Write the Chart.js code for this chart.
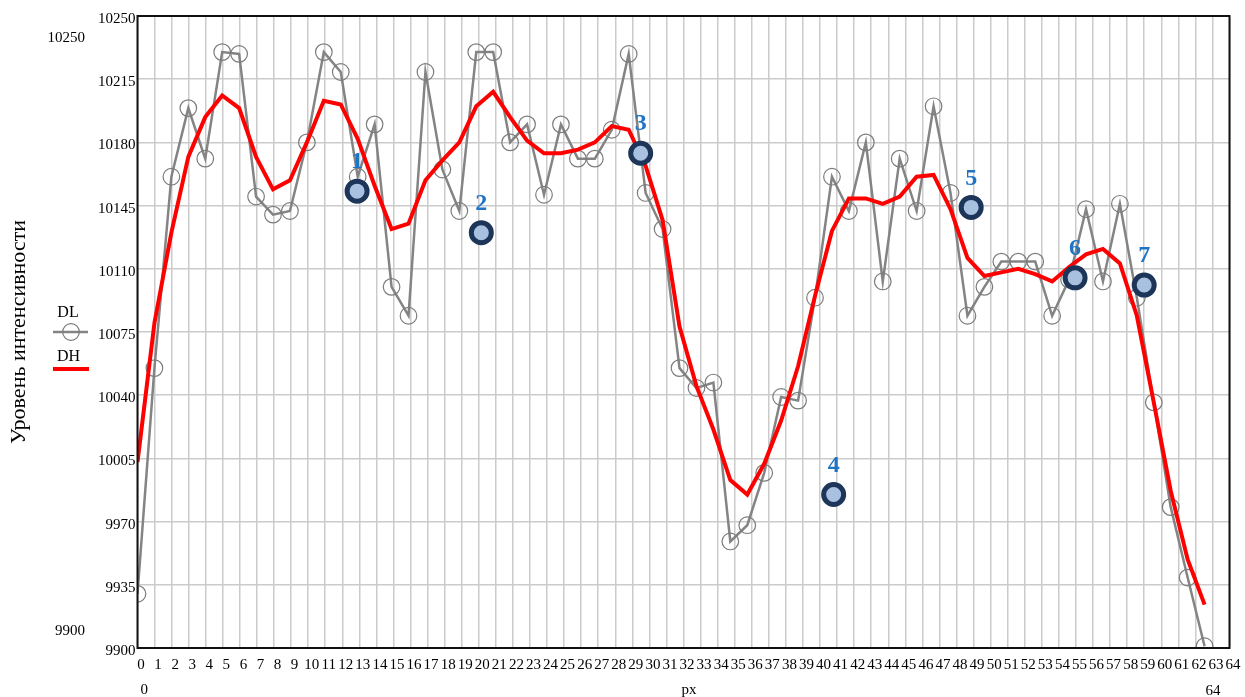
<!DOCTYPE html>
<html>
<head>
<meta charset="utf-8">
<script src="https://cdn.jsdelivr.net/npm/chart.js@4.4.0/dist/chart.umd.min.js"></script>
<style>
  html, body { margin: 0; padding: 0; background: #fff; }
  #wrap { width: 1245px; height: 697px; position: relative; }
</style>
</head>
<body>
<div id="wrap"><canvas id="c"></canvas></div>
<script>
// Intensity profile along a scan line: raw samples (DL) and smoothed curve (DH)
const xTicks = [0,1,2,3,4,5,6,7,8,9,10,11,12,13,14,15,16,17,18,19,20,21,22,23,24,25,26,27,28,29,30,31,32,
                33,34,35,36,37,38,39,40,41,42,43,44,45,46,47,48,49,50,51,52,53,54,55,56,57,58,59,60,61,62,63,64];
const yTicks = [9900, 9935, 9970, 10005, 10040, 10075, 10110, 10145, 10180, 10215, 10250];
const xRange = [0, 64];
const yRange = [9900, 10250];
const sampleStep = 0.9927;   // axis units between neighbouring samples

const dlValues = [9930, 10055, 10161, 10199, 10171, 10230, 10229, 10150, 10140, 10142,
                  10180, 10230, 10219, 10161, 10190, 10100, 10084, 10219, 10165, 10142,
                  10230, 10230, 10180, 10190, 10151, 10190, 10171, 10171, 10187, 10229,
                  10152, 10132, 10055, 10044, 10047, 9959, 9968, 9997, 10039, 10037,
                  10094, 10161, 10142, 10180, 10103, 10171, 10142, 10200, 10152, 10084,
                  10100, 10114, 10114, 10114, 10084, 10104, 10143, 10103, 10146, 10094,
                  10036, 9978, 9939, 9901];
const dhValues = [10003, 10080, 10130, 10172, 10194, 10206, 10199, 10172, 10154, 10159,
                  10180, 10203, 10201, 10182, 10156, 10132, 10135, 10159, 10170, 10180,
                  10200, 10208, 10194, 10181, 10174, 10174, 10176, 10180, 10189, 10187,
                  10167, 10137, 10078, 10045, 10021, 9993, 9985, 10002, 10026, 10056,
                  10095, 10131, 10149, 10149, 10146, 10150, 10161, 10162, 10143, 10116,
                  10106, 10108, 10110, 10107, 10103, 10111, 10118, 10121, 10113, 10084,
                  10036, 9987, 9949, 9924];

const markerLabels = ['1', '2', '3', '4', '5', '6', '7'];
const markerX = [12.87, 20.15, 29.49, 40.80, 48.86, 54.95, 59.00];
const markerY = [10153, 10130, 10174, 9985, 10144, 10105, 10101];

const serif = 'Liberation Serif, Times New Roman, serif';

const toPoints = vals => vals.map((v, i) => ({ x: i * sampleStep, y: v }));

// clip the series to the plot box, then draw frame, legend, range captions and marker numbers
const decorations = {
  id: 'decorations',
  beforeDatasetsDraw(chart) {
    const { ctx, chartArea: a } = chart;
    ctx.save();
    ctx.beginPath();
    ctx.rect(a.left, a.top, a.right - a.left, a.bottom - a.top);
    ctx.clip();
  },
  afterDatasetsDraw(chart) {
    const { ctx, chartArea: a } = chart;
    ctx.restore();
    ctx.save();
    // plot frame
    ctx.strokeStyle = '#111';
    ctx.lineWidth = 2;
    ctx.strokeRect(a.left, a.top, a.right - a.left, a.bottom - a.top);

    // numbers above the marked points
    const meta = chart.getDatasetMeta(2);
    ctx.fillStyle = '#1f74c4';
    ctx.font = 'bold 24px ' + serif;
    ctx.textAlign = 'center';
    ctx.textBaseline = 'middle';
    meta.data.forEach((p, i) => ctx.fillText(markerLabels[i], p.x, p.y - 29));

    // legend
    const ds = chart.data.datasets;
    ctx.fillStyle = '#000';
    ctx.font = '16px ' + serif;
    ctx.fillText(ds[0].label, 68, 313);
    ctx.fillText(ds[1].label, 68.5, 357);
    ctx.strokeStyle = ds[0].borderColor;
    ctx.lineWidth = ds[0].borderWidth;
    ctx.beginPath(); ctx.moveTo(53, 332); ctx.lineTo(88, 332); ctx.stroke();
    ctx.lineWidth = ds[0].pointBorderWidth;
    ctx.strokeStyle = ds[0].pointBorderColor;
    ctx.beginPath(); ctx.arc(71, 332, ds[0].pointRadius, 0, Math.PI * 2); ctx.stroke();
    ctx.strokeStyle = ds[1].borderColor;
    ctx.lineWidth = ds[1].borderWidth;
    ctx.beginPath(); ctx.moveTo(53, 369); ctx.lineTo(89, 369); ctx.stroke();

    // range captions
    ctx.font = '15px ' + serif;
    ctx.textAlign = 'right';
    ctx.fillText(String(yRange[1]), 85, 38);
    ctx.fillText(String(yRange[0]), 85, 631);
    ctx.textAlign = 'left';
    ctx.fillText(String(xRange[0]), a.left + 3, 690);
    ctx.textAlign = 'center';
    ctx.fillText(String(xRange[1]), a.right - 16.5, 691);
    ctx.fillText('px', 689, 690);
    ctx.restore();
  }
};

new Chart(document.getElementById('c'), {
  type: 'line',
  data: {
    datasets: [
      {
        label: 'DL',
        data: toPoints(dlValues),
        borderColor: '#848484',
        borderWidth: 2.5,
        pointRadius: 8.3,
        pointBorderWidth: 1.2,
        pointBorderColor: '#7c7c7c',
        pointBackgroundColor: 'rgba(0,0,0,0)',
        tension: 0,
        clip: 0,
        order: 2
      },
      {
        label: 'DH',
        data: toPoints(dhValues),
        borderColor: '#ff0000',
        borderWidth: 4,
        pointRadius: 0,
        tension: 0,
        clip: 0,
        order: 1
      },
      {
        label: 'marks',
        data: markerX.map((x, i) => ({ x, y: markerY[i] })),
        showLine: false,
        pointRadius: 10,
        pointBorderWidth: 5,
        pointBorderColor: '#1d3558',
        pointBackgroundColor: '#a9c1e1',
        clip: 0,
        order: 0
      }
    ]
  },
  options: {
    responsive: true,
    maintainAspectRatio: false,
    animation: false,
    events: [],
    layout: { padding: { top: 16, right: 11.5, left: 0, bottom: 0 } },
    plugins: { legend: { display: false }, tooltip: { enabled: false } },
    scales: {
      x: {
        type: 'linear',
        min: xRange[0],
        max: xRange[1],
        afterBuildTicks: s => { s.ticks = xTicks.map(v => ({ value: v })); },
        afterFit: s => { s.height = 49; },
        ticks: {
          autoSkip: false,
          maxRotation: 0,
          minRotation: 0,
          labelOffset: 3.5,
          padding: 8,
          color: '#000',
          font: { family: serif, size: 15 }
        },
        grid: { color: '#cbcbcb', lineWidth: 1.5, drawTicks: false },
        border: { display: false }
      },
      y: {
        min: yRange[0],
        max: yRange[1],
        afterBuildTicks: s => { s.ticks = yTicks.map(v => ({ value: v })); },
        afterFit: s => { s.width = 137.5; },
        ticks: {
          padding: 2,
          labelOffset: 3,
          color: '#000',
          font: { family: serif, size: 15 },
          callback: v => String(v)
        },
        grid: { color: '#cbcbcb', lineWidth: 1.5, drawTicks: false },
        border: { display: false },
        title: {
          display: true,
          text: 'Уровень интенсивности',
          color: '#000',
          font: { family: serif, size: 22 },
          padding: { top: 6, bottom: 0 }
        }
      }
    }
  },
  plugins: [decorations]
});
</script>
</body>
</html>
